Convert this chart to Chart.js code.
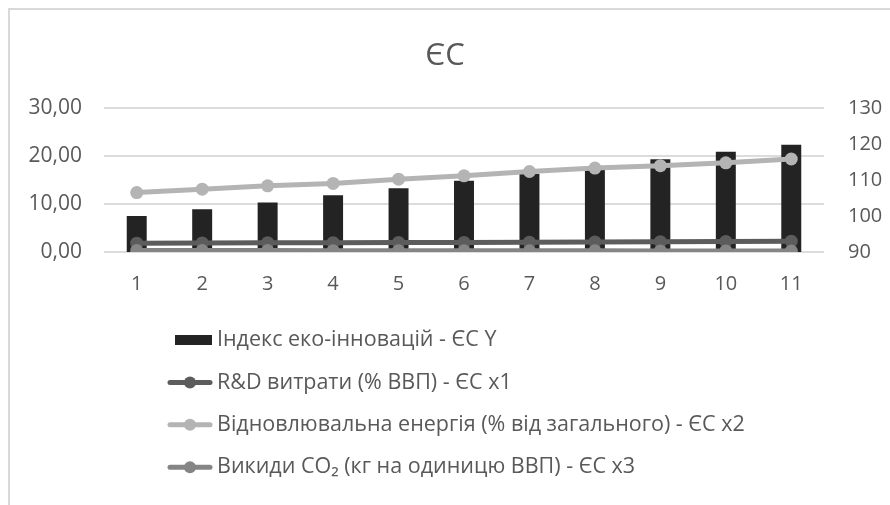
<!DOCTYPE html>
<html lang="uk">
<head>
<meta charset="utf-8">
<title>ЄС</title>
<script src="https://cdn.jsdelivr.net/npm/chart.js@4.4.1/dist/chart.umd.min.js"></script>
<style>
  html, body { margin: 0; padding: 0; background: #ffffff; }
  #wrap { position: relative; width: 890px; height: 505px; }
</style>
</head>
<body>
<div id="wrap"><canvas id="chart" width="890" height="505"></canvas></div>
<script>
// Роки (порядкові номери спостережень)
const categories = ['1', '2', '3', '4', '5', '6', '7', '8', '9', '10', '11'];

// Індекс еко-інновацій (права вісь)
const ecoInnovationIndex = [100.0, 101.9, 103.8, 105.8, 107.7, 109.8, 111.8, 113.8, 115.8, 117.9, 119.8];
// R&D витрати, % ВВП (ліва вісь)
const rdSpending = [1.85, 1.9, 1.95, 1.95, 2.0, 2.0, 2.05, 2.1, 2.15, 2.2, 2.25];
// Частка відновлюваної енергії, % (ліва вісь)
const renewableShare = [12.4, 13.1, 13.8, 14.3, 15.2, 15.9, 16.8, 17.5, 18.0, 18.6, 19.4];
// Викиди CO2, кг на одиницю ВВП (ліва вісь)
const co2Emissions = [0.31, 0.3, 0.29, 0.28, 0.27, 0.26, 0.25, 0.24, 0.23, 0.22, 0.21];

const seriesNames = [
  'Індекс еко-інновацій - ЄС Y',
  'R&D витрати (% ВВП) - ЄС x1',
  'Відновлювальна енергія (% від загального) - ЄС x2',
  'Викиди CO₂ (кг на одиницю ВВП) - ЄС x3'
];

const FONT = "'Open Sans', 'Noto Sans', 'DejaVu Sans', sans-serif";
const TEXT = '#595959';
const GRID = '#dcdcdc';

// Frame around the whole chart
const framePlugin = {
  id: 'frame',
  beforeDraw(chart) {
    const ctx = chart.ctx;
    ctx.save();
    ctx.fillStyle = '#ffffff';
    ctx.fillRect(0, 0, chart.width, chart.height);
    ctx.strokeStyle = '#d9d9d9';
    ctx.lineWidth = 2;
    ctx.strokeRect(9, 9, chart.width + 20, chart.height + 20);
    ctx.restore();
  }
};

// Single-column legend under the plot
const columnLegend = {
  id: 'columnLegend',
  afterDraw(chart, args, opts) {
    const ctx = chart.ctx;
    ctx.save();
    ctx.font = opts.fontSize + 'px ' + FONT;
    ctx.textBaseline = 'middle';
    ctx.fillStyle = TEXT;
    chart.data.datasets.forEach((ds, i) => {
      const y = opts.top + i * opts.rowGap;
      const x0 = opts.left, x1 = opts.left + opts.symbolWidth;
      if (ds.type === 'bar') {
        ctx.fillStyle = ds.backgroundColor;
        ctx.fillRect(x0 + 7, y - 5, x1 - x0 - 7, 10);
      } else {
        ctx.strokeStyle = ds.borderColor;
        ctx.lineWidth = ds.borderWidth;
        ctx.lineCap = 'round';
        ctx.beginPath();
        ctx.moveTo(x0 + 2, y);
        ctx.lineTo(x1 - 2, y);
        ctx.stroke();
        ctx.fillStyle = ds.pointBackgroundColor;
        ctx.beginPath();
        ctx.arc((x0 + x1) / 2, y, 6, 0, Math.PI * 2);
        ctx.fill();
      }
      ctx.fillStyle = TEXT;
      ctx.fillText(ds.label, x1 + 5, y);
    });
    ctx.restore();
  }
};

const lineStyle = (color) => ({
  type: 'line',
  yAxisID: 'y',
  borderColor: color,
  backgroundColor: color,
  pointBackgroundColor: color,
  pointBorderColor: color,
  borderWidth: 5,
  pointRadius: 6.5,
  pointHoverRadius: 6.5,
  pointBorderWidth: 0,
  tension: 0,
  fill: false
});

new Chart(document.getElementById('chart'), {
  type: 'bar',
  data: {
    labels: categories,
    datasets: [
      {
        type: 'bar',
        label: seriesNames[0],
        data: ecoInnovationIndex,
        yAxisID: 'y1',
        backgroundColor: '#232323',
        borderWidth: 0,
        categoryPercentage: 1,
        barPercentage: 0.305,
        order: 4
      },
      Object.assign(lineStyle('#5c5c5c'), { label: seriesNames[1], data: rdSpending, order: 3 }),
      Object.assign(lineStyle('#b4b4b4'), { label: seriesNames[2], data: renewableShare, order: 2 }),
      Object.assign(lineStyle('#858585'), { label: seriesNames[3], data: co2Emissions, order: 1 })
    ]
  },
  options: {
    responsive: false,
    animation: false,
    events: [],
    layout: { padding: { top: 0, right: 0, bottom: 0, left: 0 } },
    plugins: {
      legend: { display: false },
      tooltip: { enabled: false },
      title: {
        display: true,
        text: 'ЄС',
        color: TEXT,
        font: { family: FONT, size: 31, weight: 'normal', lineHeight: 1.2 },
        padding: { top: 38, bottom: 33 }
      },
      columnLegend: { left: 168, top: 340, rowGap: 42.4, symbolWidth: 44, fontSize: 21.5 }
    },
    scales: {
      x: {
        type: 'category',
        offset: true,
        grid: { display: false, drawTicks: false },
        border: { display: false },
        ticks: { color: TEXT, font: { family: FONT, size: 20 }, padding: 20, maxRotation: 0 },
        afterFit(scale) { scale.height = 253; }
      },
      y: {
        position: 'left',
        min: 0,
        max: 30,
        ticks: {
          stepSize: 10,
          color: TEXT,
          padding: 22,
          font: { family: FONT, size: 21 },
          callback: (v) => v.toFixed(2).replace('.', ',')
        },
        grid: { color: GRID, lineWidth: 2, drawTicks: false },
        border: { display: false },
        afterFit(scale) { scale.width = 104; }
      },
      y1: {
        position: 'right',
        min: 90,
        max: 130,
        ticks: {
          stepSize: 10,
          color: TEXT,
          padding: 24,
          font: { family: FONT, size: 20 }
        },
        grid: { display: false, drawTicks: false },
        border: { display: false },
        afterFit(scale) { scale.width = 66; }
      }
    }
  },
  plugins: [framePlugin, columnLegend]
});
</script>
</body>
</html>
